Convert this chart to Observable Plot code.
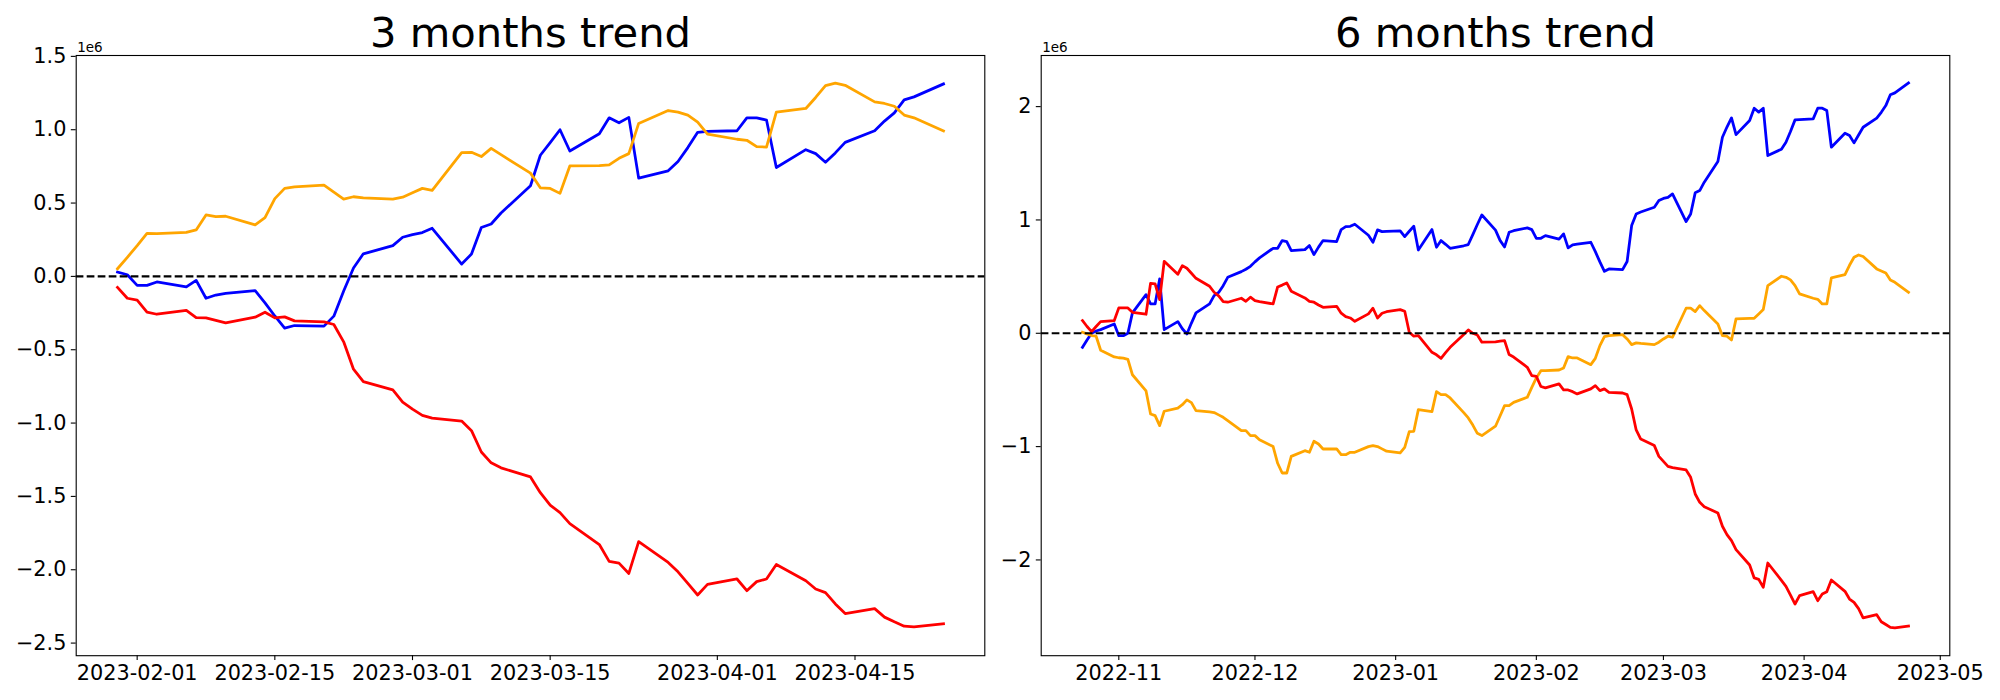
<!DOCTYPE html>
<html><head><meta charset="utf-8">
<script src="https://cdn.jsdelivr.net/npm/d3@7"></script>
<script src="https://cdn.jsdelivr.net/npm/@observablehq/plot@0.6"></script>
<style>
html,body{margin:0;padding:0;background:#fff;}
#chart{position:relative;width:2000px;height:700px;overflow:hidden;background:#fff;}
#chart svg{position:absolute;top:0;overflow:visible;}
</style></head><body><div id="chart"></div>
<script>
// ---------- 3 months panel ----------
const dates3 = ["2023-01-30","2023-01-31","2023-02-01","2023-02-02","2023-02-03",
"2023-02-06","2023-02-07","2023-02-08","2023-02-09","2023-02-10",
"2023-02-13","2023-02-14","2023-02-15","2023-02-16","2023-02-17",
"2023-02-20","2023-02-21","2023-02-22","2023-02-23","2023-02-24",
"2023-02-27","2023-02-28","2023-03-01","2023-03-02","2023-03-03",
"2023-03-06","2023-03-07","2023-03-08","2023-03-09","2023-03-10",
"2023-03-13","2023-03-14","2023-03-15","2023-03-16","2023-03-17",
"2023-03-20","2023-03-21","2023-03-22","2023-03-23","2023-03-24",
"2023-03-27","2023-03-28","2023-03-29","2023-03-30","2023-03-31",
"2023-04-03","2023-04-04","2023-04-05","2023-04-06","2023-04-07",
"2023-04-10","2023-04-11","2023-04-12","2023-04-13","2023-04-14",
"2023-04-17","2023-04-18","2023-04-19","2023-04-20","2023-04-21",
"2023-04-24"];
const blue3 = [0.029,0.011,-0.061,-0.061,-0.038,
-0.072,-0.027,-0.149,-0.127,-0.115,
-0.097,-0.18,-0.27,-0.353,-0.335,
-0.339,-0.271,-0.10,0.057,0.154,
0.21,0.267,0.285,0.299,0.328,
0.084,0.152,0.333,0.357,0.432,
0.618,0.826,0.912,1.0,0.855,
0.973,1.081,1.047,1.084,0.67,
0.72,0.783,0.878,0.982,0.988,
0.993,1.081,1.081,1.066,0.742,
0.864,0.837,0.778,0.842,0.914,
0.993,1.059,1.115,1.204,1.224,
1.312];
const orange3 = [0.052,0.13,0.21,0.294,0.292,
0.30,0.317,0.419,0.407,0.41,
0.351,0.40,0.53,0.60,0.61,
0.622,0.575,0.527,0.543,0.536,
0.527,0.54,0.57,0.60,0.586,
0.844,0.846,0.817,0.873,0.83,
0.704,0.604,0.60,0.566,0.753,
0.755,0.76,0.805,0.837,1.043,
1.131,1.12,1.10,1.052,0.97,
0.935,0.928,0.885,0.882,1.12,
1.145,1.22,1.30,1.317,1.303,
1.19,1.179,1.16,1.10,1.081,
0.991];
const red3 = [-0.075,-0.149,-0.161,-0.244,-0.258,
-0.231,-0.281,-0.283,-0.30,-0.317,
-0.278,-0.244,-0.283,-0.276,-0.303,
-0.31,-0.328,-0.446,-0.633,-0.717,
-0.774,-0.857,-0.905,-0.948,-0.966,
-0.986,-1.052,-1.197,-1.271,-1.305,
-1.367,-1.475,-1.559,-1.611,-1.686,
-1.828,-1.943,-1.955,-2.025,-1.808,
-1.95,-2.014,-2.093,-2.172,-2.10,
-2.063,-2.143,-2.081,-2.063,-1.964,
-2.075,-2.131,-2.156,-2.233,-2.299,
-2.265,-2.323,-2.355,-2.385,-2.389,
-2.369];
const xTicks3 = ["2023-02-01","2023-02-15","2023-03-01","2023-03-15","2023-04-01","2023-04-15"];
const yTicks3 = [-2.5,-2.0,-1.5,-1.0,-0.5,0.0,0.5,1.0,1.5];

// ---------- 6 months panel ----------
const dates6 = ["2022-10-24","2022-10-25","2022-10-26","2022-10-27","2022-10-28",
"2022-10-31","2022-11-01","2022-11-02","2022-11-03","2022-11-04",
"2022-11-07","2022-11-08","2022-11-09","2022-11-10","2022-11-11",
"2022-11-14","2022-11-15","2022-11-16","2022-11-17","2022-11-18",
"2022-11-21","2022-11-22","2022-11-23","2022-11-24","2022-11-25",
"2022-11-28","2022-11-29","2022-11-30","2022-12-01","2022-12-02",
"2022-12-05","2022-12-06","2022-12-07","2022-12-08","2022-12-09",
"2022-12-12","2022-12-13","2022-12-14","2022-12-15","2022-12-16",
"2022-12-19","2022-12-20","2022-12-21","2022-12-22","2022-12-23",
"2022-12-26","2022-12-27","2022-12-28","2022-12-29","2022-12-30",
"2023-01-02","2023-01-03","2023-01-04","2023-01-05","2023-01-06",
"2023-01-09","2023-01-10","2023-01-11","2023-01-12","2023-01-13",
"2023-01-16","2023-01-17","2023-01-18","2023-01-19","2023-01-20",
"2023-01-23","2023-01-24","2023-01-25","2023-01-26","2023-01-27",
"2023-01-30","2023-01-31","2023-02-01","2023-02-02","2023-02-03",
"2023-02-06","2023-02-07","2023-02-08","2023-02-09","2023-02-10",
"2023-02-13","2023-02-14","2023-02-15","2023-02-16","2023-02-17",
"2023-02-20","2023-02-21","2023-02-22","2023-02-23","2023-02-24",
"2023-02-27","2023-02-28","2023-03-01","2023-03-02","2023-03-03",
"2023-03-06","2023-03-07","2023-03-08","2023-03-09","2023-03-10",
"2023-03-13","2023-03-14","2023-03-15","2023-03-16","2023-03-17",
"2023-03-20","2023-03-21","2023-03-22","2023-03-23","2023-03-24",
"2023-03-27","2023-03-28","2023-03-29","2023-03-30","2023-03-31",
"2023-04-03","2023-04-04","2023-04-05","2023-04-06","2023-04-07",
"2023-04-10","2023-04-11","2023-04-12","2023-04-13","2023-04-14",
"2023-04-17","2023-04-18","2023-04-19","2023-04-20","2023-04-21",
"2023-04-24"];
const blue6 = [-0.124,-0.06,0.0,0.02,0.032,
0.082,-0.021,-0.021,0.0,0.18,
0.341,0.259,0.259,0.48,0.032,
0.103,0.04,-0.006,0.09,0.18,
0.259,0.332,0.36,0.42,0.494,
0.544,0.565,0.591,0.63,0.665,
0.75,0.75,0.818,0.809,0.73,
0.738,0.774,0.694,0.76,0.818,
0.809,0.915,0.941,0.944,0.962,
0.865,0.803,0.912,0.897,0.9,
0.903,0.853,0.9,0.944,0.735,
0.915,0.759,0.818,0.785,0.75,
0.772,0.783,0.87,0.96,1.044,
0.91,0.82,0.762,0.891,0.905,
0.93,0.915,0.838,0.838,0.862,
0.83,0.877,0.753,0.78,0.786,
0.803,0.72,0.63,0.547,0.568,
0.562,0.633,0.95,1.053,1.07,
1.112,1.171,1.19,1.2,1.23,
0.986,1.053,1.239,1.259,1.333,
1.515,1.73,1.82,1.9,1.753,
1.877,1.986,1.951,1.986,1.568,
1.624,1.686,1.78,1.883,1.886,
1.892,1.986,1.986,1.965,1.642,
1.765,1.745,1.68,1.75,1.818,
1.898,1.95,2.009,2.104,2.121,
2.209];
const orange6 = [0.009,-0.005,-0.02,-0.026,-0.15,
-0.209,-0.216,-0.22,-0.23,-0.366,
-0.509,-0.712,-0.727,-0.815,-0.688,
-0.66,-0.63,-0.588,-0.612,-0.683,
-0.694,-0.70,-0.72,-0.741,-0.77,
-0.859,-0.859,-0.903,-0.903,-0.94,
-1.0,-1.147,-1.233,-1.233,-1.086,
-1.036,-1.05,-0.953,-0.977,-1.021,
-1.021,-1.071,-1.071,-1.05,-1.05,
-1.0,-0.991,-1.0,-1.02,-1.04,
-1.056,-1.006,-0.868,-0.865,-0.674,
-0.691,-0.515,-0.541,-0.541,-0.571,
-0.7,-0.747,-0.81,-0.883,-0.903,
-0.82,-0.73,-0.638,-0.638,-0.61,
-0.565,-0.477,-0.394,-0.33,-0.33,
-0.324,-0.306,-0.206,-0.218,-0.218,
-0.277,-0.221,-0.109,-0.029,-0.021,
-0.012,-0.05,-0.1,-0.085,-0.09,
-0.1,-0.079,-0.05,-0.026,-0.035,
0.221,0.221,0.191,0.244,0.2,
0.082,-0.021,-0.026,-0.059,0.127,
0.132,0.132,0.17,0.209,0.421,
0.503,0.494,0.471,0.421,0.347,
0.309,0.3,0.259,0.259,0.488,
0.518,0.6,0.671,0.691,0.677,
0.568,0.55,0.532,0.471,0.45,
0.362];
const red6 = [0.112,0.06,0.015,0.06,0.103,
0.112,0.224,0.224,0.224,0.185,
0.168,0.441,0.435,0.297,0.635,
0.521,0.597,0.574,0.53,0.485,
0.415,0.362,0.33,0.28,0.274,
0.309,0.282,0.318,0.288,0.28,
0.259,0.409,0.425,0.444,0.371,
0.312,0.282,0.274,0.25,0.229,
0.238,0.177,0.147,0.135,0.106,
0.171,0.221,0.135,0.177,0.19,
0.209,0.194,0.009,-0.026,-0.021,
-0.168,-0.19,-0.221,-0.17,-0.124,
-0.01,0.029,0.0,-0.015,-0.079,
-0.075,-0.07,-0.065,-0.188,-0.21,
-0.3,-0.374,-0.38,-0.47,-0.482,
-0.447,-0.5,-0.5,-0.515,-0.535,
-0.491,-0.462,-0.506,-0.491,-0.521,
-0.527,-0.541,-0.668,-0.853,-0.933,
-0.991,-1.086,-1.13,-1.174,-1.186,
-1.206,-1.271,-1.418,-1.492,-1.53,
-1.586,-1.703,-1.777,-1.83,-1.909,
-2.045,-2.159,-2.171,-2.242,-2.027,
-2.18,-2.233,-2.31,-2.389,-2.315,
-2.28,-2.36,-2.301,-2.28,-2.177,
-2.277,-2.345,-2.374,-2.43,-2.512,
-2.483,-2.545,-2.57,-2.595,-2.6,
-2.583];
const xTicks6 = ["2022-11-01","2022-12-01","2023-01-01","2023-02-01","2023-03-01","2023-04-01","2023-05-01"];
const yTicks6 = [-2,-1,0,1,2];

const seriesColors = {blue: "#0000ff", orange: "#ffa500", red: "#ff0000"};
const minus = s => s.replace("-", "\u2212");

function panel(cfg) {
  const dates = cfg.dates.map(d => new Date(d));
  const lines = cfg.series.map(s =>
    Plot.line(dates.map((d, i) => ({date: d, value: s.values[i]})), {
      x: "date", y: "value", stroke: seriesColors[s.color],
      strokeWidth: 2.78, strokeLinejoin: "round", strokeLinecap: "square"
    }));
  return Plot.plot({
    width: 1000, height: 700,
    marginLeft: cfg.marginLeft, marginRight: cfg.marginRight,
    marginTop: 55, marginBottom: 44.8,
    x: {type: "utc", domain: cfg.xDomain.map(d => new Date(d))},
    y: {domain: cfg.yDomain},
    style: {fontFamily: "'DejaVu Sans', sans-serif", fontSize: "20.8px", color: "black", background: "white", overflow: "visible"},
    marks: [
      ...lines,
      Plot.ruleY([0], {stroke: "black", strokeWidth: 2.08, strokeDasharray: "7.7,3.3"}),
      Plot.frame({stroke: "black", strokeWidth: 1.1}),
      Plot.axisX({ticks: cfg.xTicks.map(d => new Date(d)), tickFormat: d3.utcFormat(cfg.xFormat),
        tickSize: 4.9, tickPadding: 4.9, strokeWidth: 1.1, label: null, fontSize: 20.8}),
      Plot.axisY({ticks: cfg.yTicks, tickFormat: cfg.yFormat,
        tickSize: 4.9, tickPadding: 4.9, strokeWidth: 1.1, label: null, fontSize: 20.8}),
      Plot.text([cfg.title], {frameAnchor: "top", lineAnchor: "bottom", dy: -8.3, fontSize: 41.7, fill: "black"}),
      Plot.text(["1e6"], {frameAnchor: "top-left", textAnchor: "start", lineAnchor: "bottom", dy: -4, dx: 1, fontSize: 13.5, fill: "black"})
    ]
  });
}

const chart = document.getElementById("chart");
const left = panel({
  dates: dates3,
  series: [{color: "blue", values: blue3}, {color: "orange", values: orange3}, {color: "red", values: red3}],
  xDomain: ["2023-01-25T19:12:00Z", "2023-04-28T04:48:00Z"],
  yDomain: [-2.586, 1.506],
  xTicks: xTicks3, xFormat: "%Y-%m-%d",
  yTicks: yTicks3, yFormat: d => minus(d.toFixed(1)),
  title: "3 months trend", marginLeft: 75.7, marginRight: 15.7
});
left.style.left = "0px";
chart.appendChild(left);

const right = panel({
  dates: dates6,
  series: [{color: "blue", values: blue6}, {color: "orange", values: orange6}, {color: "red", values: red6}],
  xDomain: ["2022-10-14T21:36:00Z", "2023-05-03T02:24:00Z"],
  yDomain: [-2.845, 2.451],
  xTicks: xTicks6, xFormat: "%Y-%m",
  yTicks: yTicks6, yFormat: d => minus(String(d)),
  title: "6 months trend", marginLeft: 40.7, marginRight: 50.7
});
right.style.left = "1000px";
chart.appendChild(right);
</script>
</body></html>
